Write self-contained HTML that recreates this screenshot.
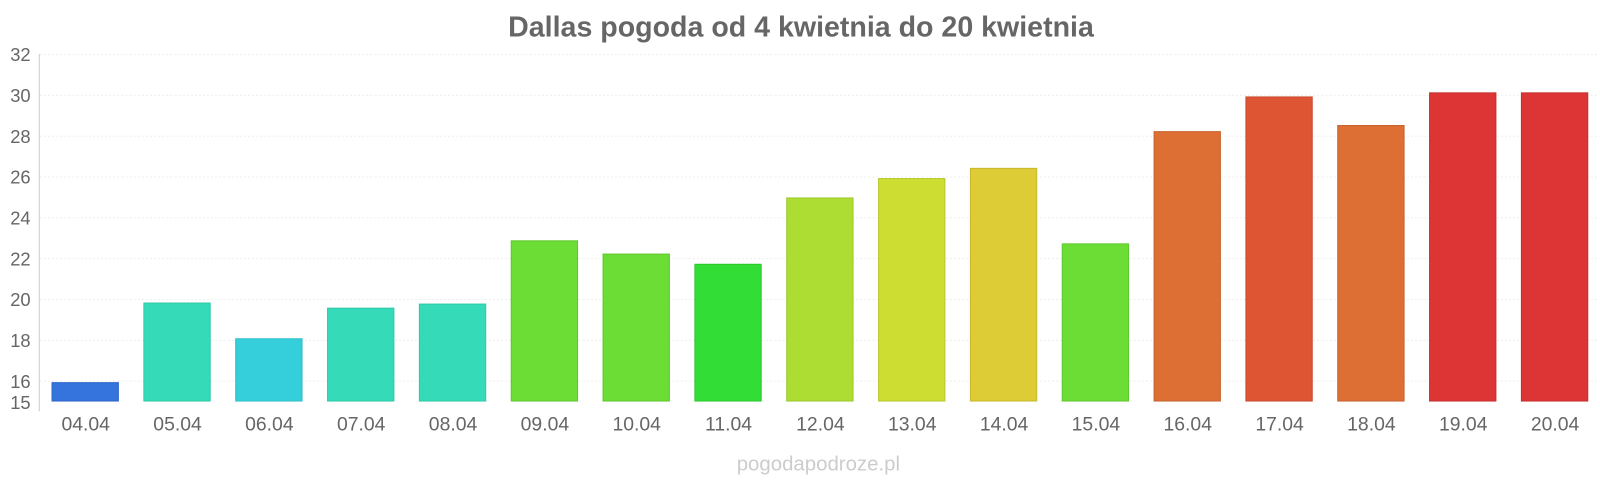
<!DOCTYPE html>
<html><head><meta charset="utf-8"><style>
body{margin:0;background:#fff;}
svg{display:block;font-family:"Liberation Sans",sans-serif;}
</style></head><body>
<svg width="1600" height="480" xmlns="http://www.w3.org/2000/svg">
<g transform="scale(1.0204)">
<text x="785" y="36" text-anchor="middle" font-size="28" font-weight="bold" fill="#666">Dallas pogoda od 4 kwietnia do 20 kwietnia</text>
<g stroke="#eee" stroke-width="1" stroke-dasharray="2,2">
<line x1="39" x2="1566" y1="53.5" y2="53.5"/><line x1="39" x2="1566" y1="93.5" y2="93.5"/>
<line x1="39" x2="1566" y1="133.5" y2="133.5"/><line x1="39" x2="1566" y1="173.5" y2="173.5"/>
<line x1="39" x2="1566" y1="213.5" y2="213.5"/><line x1="39" x2="1566" y1="253.5" y2="253.5"/>
<line x1="39" x2="1566" y1="293.5" y2="293.5"/><line x1="39" x2="1566" y1="333.5" y2="333.5"/>
<line x1="39" x2="1566" y1="373.5" y2="373.5"/>
</g>
<line x1="38.5" x2="38.5" y1="53" y2="403" stroke="#ccc"/>
<g font-size="18" fill="#666" text-anchor="end">
<text x="30" y="60">32</text><text x="30" y="100">30</text><text x="30" y="140">28</text>
<text x="30" y="180">26</text><text x="30" y="220">24</text><text x="30" y="260">22</text>
<text x="30" y="300">20</text><text x="30" y="340">18</text><text x="30" y="380">16</text>
<text x="30" y="401">15</text>
</g>
<g stroke-width="1">
<rect x="51" y="375" width="65" height="18" fill="#3474dc" stroke="#2c66c8"/>
<rect x="141" y="297" width="65" height="96" fill="#35dbb9" stroke="#2ec8a8"/>
<rect x="231" y="332" width="65" height="61" fill="#35cfdc" stroke="#2dbcc8"/>
<rect x="321" y="302" width="65" height="91" fill="#35dbb9" stroke="#2ec8a8"/>
<rect x="411" y="298" width="65" height="95" fill="#35dbb9" stroke="#2ec8a8"/>
<rect x="501" y="236" width="65" height="157" fill="#6bdd35" stroke="#5ec82e"/>
<rect x="591" y="249" width="65" height="144" fill="#6bdd35" stroke="#5ec82e"/>
<rect x="681" y="259" width="65" height="134" fill="#32dd35" stroke="#2cc82e"/>
<rect x="771" y="194" width="65" height="199" fill="#addd32" stroke="#9cc82e"/>
<rect x="861" y="175" width="65" height="218" fill="#cddd32" stroke="#b9c82e"/>
<rect x="951" y="165" width="65" height="228" fill="#ddcc35" stroke="#c8b82e"/>
<rect x="1041" y="239" width="65" height="154" fill="#6bdd35" stroke="#5ec82e"/>
<rect x="1131" y="129" width="65" height="264" fill="#dd6f35" stroke="#c8622e"/>
<rect x="1221" y="95" width="65" height="298" fill="#dd5533" stroke="#c84a2e"/>
<rect x="1311" y="123" width="65" height="270" fill="#dd6f35" stroke="#c8622e"/>
<rect x="1401" y="91" width="65" height="302" fill="#dd3535" stroke="#c82e2e"/>
<rect x="1491" y="91" width="65" height="302" fill="#dd3535" stroke="#c82e2e"/>
</g>
<g font-size="19" fill="#666" text-anchor="middle">
<text x="84" y="422">04.04</text><text x="174" y="422">05.04</text><text x="264" y="422">06.04</text>
<text x="354" y="422">07.04</text><text x="444" y="422">08.04</text><text x="534" y="422">09.04</text>
<text x="624" y="422">10.04</text><text x="714" y="422">11.04</text><text x="804" y="422">12.04</text>
<text x="894" y="422">13.04</text><text x="984" y="422">14.04</text><text x="1074" y="422">15.04</text>
<text x="1164" y="422">16.04</text><text x="1254" y="422">17.04</text><text x="1344" y="422">18.04</text>
<text x="1434" y="422">19.04</text><text x="1524" y="422">20.04</text>
</g>
<text x="802" y="461" text-anchor="middle" font-size="20" fill="#ccc">pogodapodroze.pl</text>
</g>
</svg>
</body></html>
